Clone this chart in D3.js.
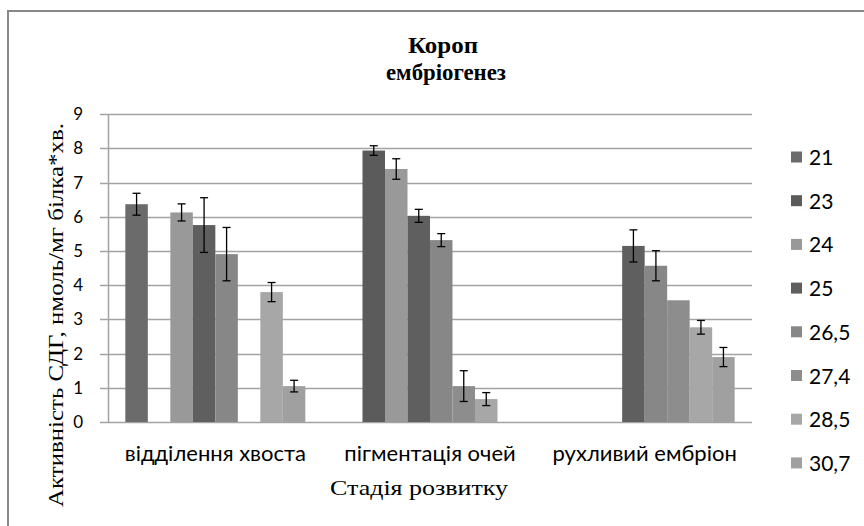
<!DOCTYPE html>
<html>
<head>
<meta charset="utf-8">
<script src="https://cdn.jsdelivr.net/npm/d3@7"></script>
<style>
  body { margin: 0; background: #fff; }
  svg { display: block; }
</style>
</head>
<body>
<script>
// Короп, ембріогенез: активність СДГ по стадіях розвитку і температурах

var w = 864;
var h = 526;

// stages on x axis
var stages = ["відділення хвоста", "пігментація очей", "рухливий ембріон"];

// temperatures (legend)
var temps = ["21", "23", "24", "25", "26,5", "27,4", "28,5", "30,7"];

// values per temperature, one per stage (null = no bar)
var v21   = [6.37, null, null];
var v23   = [null, 7.94, null];
var v24   = [6.13, 7.40, null];
var v25   = [5.76, 6.03, 5.15];
var v26_5 = [4.91, 5.32, 4.57];
var v27_4 = [null, 1.05, 3.56];
var v28_5 = [3.80, 0.67, 2.77];
var v30_7 = [1.05, null, 1.90];

// error (+/-) per temperature
var e21   = [0.32, null, null];
var e23   = [null, 0.14, null];
var e24   = [0.25, 0.30, null];
var e25   = [0.80, 0.19, 0.47];
var e26_5 = [0.78, 0.19, 0.44];
var e27_4 = [null, 0.45, null];
var e28_5 = [0.28, 0.19, 0.20];
var e30_7 = [0.17, null, 0.28];

var yTicks = [0, 1, 2, 3, 4, 5, 6, 7, 8, 9];

var greys = ["#6b6b6b", "#5b5b5b", "#999999", "#5f5f5f", "#878787", "#8d8d8d", "#a7a7a7", "#a0a0a0"];

window.onload = function() {

  var values = [v21, v23, v24, v25, v26_5, v27_4, v28_5, v30_7];
  var errors = [e21, e23, e24, e25, e26_5, e27_4, e28_5, e30_7];

  // flat list of bars
  var bars = [];
  stages.forEach(function(s, i) {
    temps.forEach(function(t, j) {
      if (values[j][i] != null) {
        bars.push({stage: s, temp: t, idx: j, value: values[j][i], err: errors[j][i]});
      }
    });
  });

  var svg = d3.select("body").append("svg")
              .attr("width", w)
              .attr("height", h);

  // chart frame
  svg.append("rect")
     .attr("x", 8)
     .attr("y", 11)
     .attr("width", 900)
     .attr("height", 600)
     .attr("fill", "#fff")
     .attr("stroke", "#888")
     .attr("stroke-width", 2);

  var x0 = d3.scaleBand()
             .domain(stages)
             .range([108, 752]);

  var x1 = d3.scaleBand()
             .domain(temps)
             .range([0, x0.bandwidth()])
             .paddingOuter(0.77);

  var y = d3.scaleLinear()
            .domain([0, 9])
            .range([422, 114.3]);

  // gridlines (also the little ticks left of the axis)
  svg.selectAll(".grid")
     .data(yTicks)
     .enter().append("line")
     .attr("class", "grid")
     .attr("x1", 100)
     .attr("x2", 752)
     .attr("y1", function(d) { return Math.round(y(d)) + 0.5; })
     .attr("y2", function(d) { return Math.round(y(d)) + 0.5; })
     .attr("stroke", "#a3a3a3")
     .attr("stroke-width", 1.5);

  // vertical axis line
  svg.append("line")
     .attr("x1", 108.5)
     .attr("x2", 108.5)
     .attr("y1", y(9))
     .attr("y2", y(0))
     .attr("stroke", "#a3a3a3")
     .attr("stroke-width", 1.5);

  // bars
  svg.selectAll(".bar")
     .data(bars)
     .enter().append("rect")
     .attr("class", "bar")
     .attr("x", function(d) { return x0(d.stage) + x1(d.temp); })
     .attr("y", function(d) { return y(d.value); })
     .attr("width", x1.bandwidth())
     .attr("height", function(d) { return y(0) - y(d.value); })
     .attr("fill", function(d) { return greys[d.idx]; });

  // error bars
  var eb = svg.selectAll(".err")
              .data(bars.filter(function(d) { return d.err != null; }))
              .enter().append("g")
              .attr("class", "err")
              .attr("stroke", "#000")
              .attr("stroke-width", 1.3);

  eb.append("line")
    .attr("x1", function(d) { return x0(d.stage) + x1(d.temp) + x1.bandwidth() / 2; })
    .attr("x2", function(d) { return x0(d.stage) + x1(d.temp) + x1.bandwidth() / 2; })
    .attr("y1", function(d) { return y(d.value + d.err); })
    .attr("y2", function(d) { return y(d.value - d.err); });

  [1, -1].forEach(function(sign) {
    eb.append("line")
      .attr("x1", function(d) { return x0(d.stage) + x1(d.temp) + x1.bandwidth() / 2 - 4; })
      .attr("x2", function(d) { return x0(d.stage) + x1(d.temp) + x1.bandwidth() / 2 + 4; })
      .attr("y1", function(d) { return y(d.value + sign * d.err); })
      .attr("y2", function(d) { return y(d.value + sign * d.err); });
  });

  // y axis labels
  var yAxis = d3.axisLeft(y)
                .tickValues(yTicks)
                .tickSize(0)
                .tickPadding(25);

  var gy = svg.append("g")
              .attr("transform", "translate(108,0)")
              .call(yAxis);
  gy.select(".domain").remove();
  gy.selectAll("text")
    .style("font-family", "Lato, 'Open Sans', sans-serif")
    .style("font-size", "17px")
    .attr("fill", "#000");

  // x axis labels
  var xAxis = d3.axisBottom(x0)
                .tickSize(0)
                .tickPadding(23);

  var gx = svg.append("g")
              .attr("transform", "translate(0,422)")
              .call(xAxis);
  gx.select(".domain").remove();
  gx.selectAll("text")
    .style("font-family", "Lato, 'Open Sans', sans-serif")
    .style("font-size", "22px")
    .attr("fill", "#000");

  // title
  svg.append("text")
     .attr("x", 443)
     .attr("y", 53)
     .attr("text-anchor", "middle")
     .style("font-family", "'Liberation Serif', serif")
     .style("font-weight", "bold")
     .style("font-size", "24px")
     .attr("textLength", 70)
     .attr("lengthAdjust", "spacingAndGlyphs")
     .text("Короп");

  svg.append("text")
     .attr("x", 446)
     .attr("y", 80)
     .attr("text-anchor", "middle")
     .style("font-family", "'Liberation Serif', serif")
     .style("font-weight", "bold")
     .style("font-size", "24px")
     .attr("textLength", 120)
     .attr("lengthAdjust", "spacingAndGlyphs")
     .text("ембріогенез");

  // axis titles
  svg.append("text")
     .attr("x", 419)
     .attr("y", 495)
     .attr("text-anchor", "middle")
     .style("font-family", "'Liberation Serif', serif")
     .style("font-size", "22px")
     .attr("textLength", 178)
     .attr("lengthAdjust", "spacingAndGlyphs")
     .text("Стадія розвитку");

  svg.append("text")
     .attr("transform", "translate(63,315) rotate(-90)")
     .attr("text-anchor", "middle")
     .style("font-family", "'Liberation Serif', serif")
     .style("font-size", "22px")
     .attr("textLength", 384)
     .attr("lengthAdjust", "spacingAndGlyphs")
     .text("Активність СДГ, нмоль/мг білка*хв.");

  // legend
  var legend = svg.selectAll(".legend")
                  .data(temps)
                  .enter().append("g")
                  .attr("class", "legend")
                  .attr("transform", function(d, i) { return "translate(791," + (157.5 + i * 43.7) + ")"; });

  legend.append("rect")
        .attr("x", 0)
        .attr("y", -6)
        .attr("width", 11)
        .attr("height", 11)
        .attr("fill", function(d, i) { return greys[i]; });

  legend.append("text")
        .attr("x", 18)
        .attr("y", 0)
        .attr("dy", "0.36em")
        .style("font-family", "Lato, 'Open Sans', sans-serif")
        .style("font-size", "21px")
        .text(function(d) { return d; });
};
</script>
</body>
</html>
